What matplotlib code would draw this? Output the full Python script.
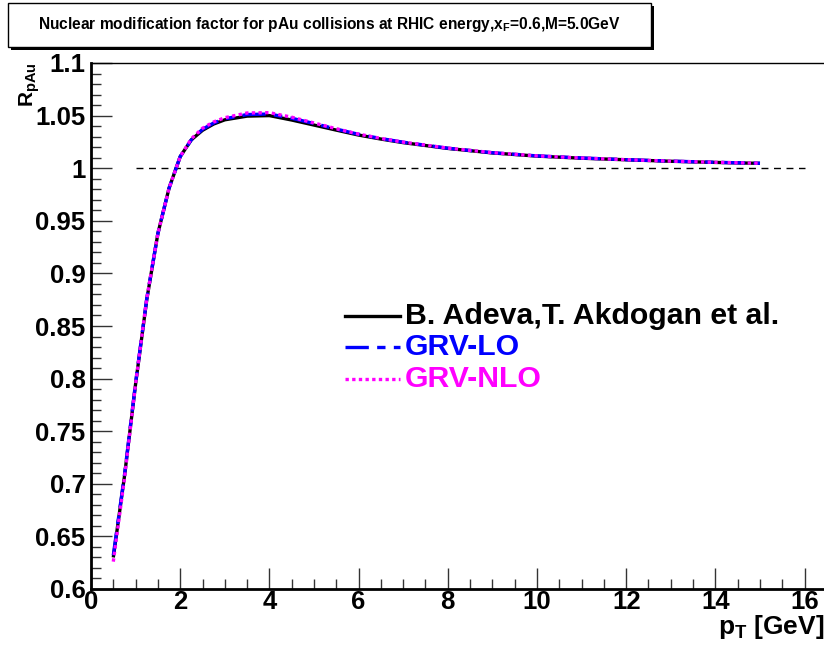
import matplotlib
matplotlib.use("Agg")
import matplotlib.pyplot as plt
from matplotlib.patches import Rectangle
from matplotlib.ticker import MultipleLocator

plt.rcParams['font.family'] = ['Liberation Sans', 'DejaVu Sans']
plt.rcParams['font.weight'] = 'bold'
plt.rcParams['mathtext.fontset'] = 'custom'
plt.rcParams['mathtext.rm'] = 'Liberation Sans:bold'
plt.rcParams['mathtext.it'] = 'Liberation Sans:bold'
plt.rcParams['mathtext.bf'] = 'Liberation Sans:bold'

pt = [0.5, 0.75, 1.0, 1.25, 1.5, 1.75, 2.0, 2.25, 2.5, 2.75, 3.0, 3.5, 4.0,
      4.5, 5.0, 5.5, 6.0, 6.5, 7.0, 8.0, 9.0, 10.0, 11.0, 12.0, 13.0, 14.0, 15.0]
r_adeva = [0.630, 0.707, 0.795, 0.875, 0.938, 0.981, 1.011, 1.027, 1.036, 1.042,
           1.046, 1.0495, 1.0500, 1.0458, 1.0410, 1.0362, 1.0315, 1.0277, 1.0243,
           1.0188, 1.0145, 1.0115, 1.0095, 1.0080, 1.0066, 1.0055, 1.0046]
r_grvlo = [0.632, 0.708, 0.796, 0.876, 0.938, 0.981, 1.011, 1.027, 1.037, 1.043,
           1.047, 1.0510, 1.0515, 1.0475, 1.0425, 1.0372, 1.0322, 1.0282, 1.0247,
           1.0190, 1.0147, 1.0117, 1.0097, 1.0081, 1.0067, 1.0056, 1.0047]
r_grvnlo = [0.626, 0.705, 0.795, 0.876, 0.938, 0.981, 1.011, 1.028, 1.038, 1.044,
            1.048, 1.0525, 1.0528, 1.0485, 1.0430, 1.0375, 1.0324, 1.0283, 1.0248,
            1.0191, 1.0148, 1.0117, 1.0097, 1.0081, 1.0067, 1.0056, 1.0047]
labels = ['B. Adeva,T. Akdogan et al.', 'GRV-LO', 'GRV-NLO']
ref_x = [1.0, 16.0]
ref_y = [1.0, 1.0]

W, H = 824, 648
fig = plt.figure(figsize=(W / 100, H / 100), dpi=100)

x0, x1 = 91, 91 + 16.5 * 44.6
y_top, y_bot = 63, 589
ax = fig.add_axes([x0 / W, 1 - y_bot / H, (x1 - x0) / W, (y_bot - y_top) / H])
ax.set_xlim(0, 16.5)
ax.set_ylim(0.6, 1.1)

styles = ['-', (0, (7, 2.5, 2.5, 2.5)), (0, (1, 1))]
colors = ['black', '#0000ff', '#ff00ff']
series = [r_adeva, r_grvlo, r_grvnlo]

ax.plot(ref_x, ref_y, color='black', lw=1.0, ls=(0, (5, 4)))
for ys, c, s in zip(series, colors, styles):
    ax.plot(pt, ys, color=c, lw=2.4, ls=s, solid_capstyle='butt', dash_capstyle='butt')

ax.xaxis.set_major_locator(MultipleLocator(2))
ax.xaxis.set_minor_locator(MultipleLocator(0.5))
ax.yaxis.set_major_locator(MultipleLocator(0.05))
ax.yaxis.set_minor_locator(MultipleLocator(0.01))
ax.tick_params(which='major', direction='in', length=15, width=1.0, color='#333333',
               labelsize=18.5, top=False, right=False)
ax.tick_params(which='minor', direction='in', length=7.5, width=1.0, color='#333333',
               top=False, right=False)
ax.tick_params(axis='x', pad=1)
ax.tick_params(axis='y', pad=4)
ax.set_xticks([0, 2, 4, 6, 8, 10, 12, 14, 16])
ax.set_xticklabels(['0', '2', '4', '6', '8', '10', '12', '14', '16'], fontweight='bold')
yt = [0.6, 0.65, 0.7, 0.75, 0.8, 0.85, 0.9, 0.95, 1.0, 1.05, 1.1]
ax.set_yticks(yt)
ax.set_yticklabels(['0.6', '0.65', '0.7', '0.75', '0.8', '0.85', '0.9', '0.95', '1',
                    '1.05', '1.1'], fontweight='bold')

for s in ['left', 'bottom']:
    ax.spines[s].set_linewidth(2.0)
ax.spines['top'].set_linewidth(1.0)
ax.spines['right'].set_visible(False)

# axis titles
fig.text(824 / W, 1 - 634 / H, r'$\mathrm{p_{T}}$ [GeV]', ha='right', va='baseline',
         fontsize=19, fontweight='bold')
fig.text(30 / W, 1 - 62 / H, r'$\mathrm{R_{pAu}}$', ha='center', va='top', rotation=90,
         fontsize=15, fontweight='bold')

# legend
rows = [316, 347, 379]
for lab, c, s, yy in zip(labels, colors, styles, rows):
    yf = 1 - yy / H
    fig.add_artist(plt.Line2D([345 / W, 400 / W], [yf, yf], transform=fig.transFigure,
                              color=c, lw=2.4, ls=s, dash_capstyle='butt'))
    fig.text(405 / W, yf, lab, ha='left', va='center', fontsize=21.8, fontweight='bold',
             color=c)

# title box with shadow
bx0, by0, bx1, by1 = 8, 3, 651, 47
fig.add_artist(Rectangle(((bx0 + 3) / W, 1 - (by1 + 3) / H), (bx1 - bx0) / W,
                         (by1 - by0) / H, transform=fig.transFigure,
                         facecolor='black', edgecolor='black', lw=0))
fig.add_artist(Rectangle((bx0 / W, 1 - by1 / H), (bx1 - bx0) / W, (by1 - by0) / H,
                         transform=fig.transFigure, facecolor='white',
                         edgecolor='black', lw=1.0))
fig.text((bx0 + bx1) / 2 / W, 1 - 25 / H,
         r'Nuclear modification factor for pAu collisions at RHIC energy,$\mathrm{x_{F}}$=0.6,M=5.0GeV',
         ha='center', va='center', fontsize=11.2, fontweight='bold')

fig.savefig('out.png', dpi=100)
